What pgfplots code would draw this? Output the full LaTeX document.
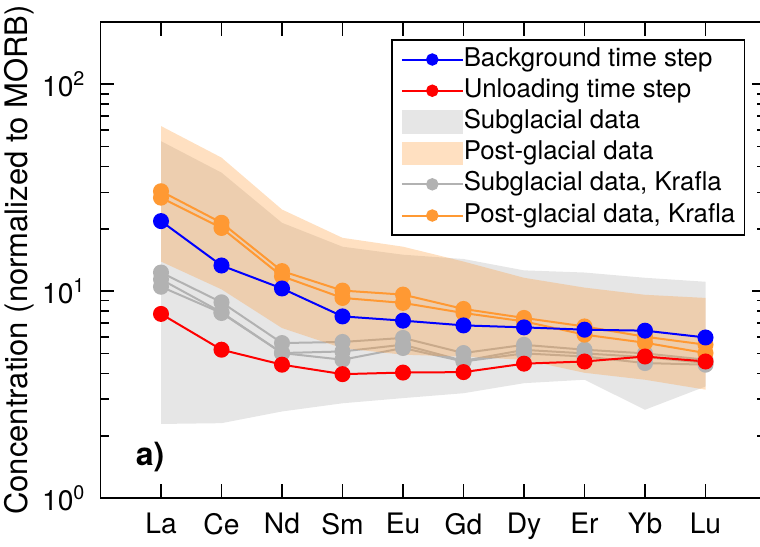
\documentclass[border=0pt]{standalone}
\usepackage{fontspec}
\setmainfont{TeX Gyre Heros}
\usepackage{pgfplots}
\pgfplotsset{compat=1.18}

\definecolor{bgblue}{RGB}{0,0,255}
\definecolor{unred}{RGB}{255,0,0}
\definecolor{kora}{RGB}{255,153,51}
\definecolor{kgray}{RGB}{178,178,178}
\definecolor{subfill}{RGB}{230,230,230}

\pgfplotsset{
  ree/.style={line width=1pt, mark=*, mark size=3.5pt, mark options={solid}, forget plot},
  lineimg/.style={legend image code/.code={
      \draw[mark repeat=2, mark phase=2, line width=1pt, mark size=2.6pt, ##1]
        plot coordinates {(0pt,0pt) (15.25pt,0pt) (30.5pt,0pt)};}},
  patchimg/.style={legend image code/.code={
      \fill[##1, draw=none] (0pt,-5.8pt) rectangle (30.5pt,5.8pt);}},
}

\begin{document}
\begin{tikzpicture}
\begin{axis}[
  scale only axis,
  width=332.75pt, height=238pt,
  xmin=0, xmax=11, ymin=1, ymax=200,
  ymode=log,
  xtick={1,...,10},
  xticklabels={La,Ce,Nd,Sm,Eu,Gd,Dy,Er,Yb,Lu},
  ytick={1,10,100},
  yticklabels={10\textsuperscript{0},10\textsuperscript{1},10\textsuperscript{2}},
  minor ytick={2,3,4,5,6,7,8,9,20,30,40,50,60,70,80,90},
  tick label style={font=\fontsize{14.1}{17}\selectfont},
  xticklabel style={yshift=-4pt},
  yticklabel style={xshift=-4pt},
  major tick length=7pt, minor tick length=4.5pt,
  tick style={black, line width=0.9pt},
  axis line style={line width=0.9pt},
  ylabel={Concentration (normalized to MORB)},
  ylabel style={font=\fontsize{15.5}{18}\selectfont, at={(rel axis cs:-0.1225,0.5)}, anchor=center},
  legend cell align=left,
  legend style={at={(rel axis cs:0.4365,0.964)}, anchor=north west,
    draw=black, line width=0.8pt, fill=white,
    font=\fontsize{12.9}{15}\selectfont,
    inner xsep=4.5pt, inner ysep=2.5pt, row sep=1pt,
    nodes={inner ysep=1pt, inner xsep=0pt, text height=9.6pt, text depth=3pt},
    /tikz/every even column/.append style={column sep=4pt}},
]
% legend entries, in the order of the key
\addlegendimage{lineimg, bgblue, mark=*}
\addlegendentry{Background time step}
\addlegendimage{lineimg, unred, mark=*}
\addlegendentry{Unloading time step}
\addlegendimage{patchimg, subfill}
\addlegendentry{Subglacial data}
\addlegendimage{patchimg, kora, fill opacity=0.3}
\addlegendentry{Post-glacial data}
\addlegendimage{lineimg, kgray, mark=*}
\addlegendentry{Subglacial data, Krafla}
\addlegendimage{lineimg, kora, mark=*}
\addlegendentry{Post-glacial data, Krafla\hspace{3pt}}

% subglacial envelope (upper bound La->Lu, lower bound Lu->La)
\addplot[draw=none, fill=subfill, forget plot] coordinates {
  (1,53.1) (2,37.4) (3,21.4) (4,16.4) (5,15.0) (6,14.3) (7,12.6) (8,12.3) (9,11.6) (10,11.1)
  (10,3.46) (9,2.67) (8,3.73) (7,3.59) (6,3.21) (5,3.04) (4,2.87) (3,2.62) (2,2.30) (1,2.28)};

% Krafla subglacial samples
\addplot[ree, kgray] coordinates {
  (1,12.3) (2,8.83) (3,5.61) (4,5.68) (5,5.94) (6,5.02) (7,5.50) (8,5.21) (9,5.00) (10,4.66)};
\addplot[ree, kgray] coordinates {
  (1,11.4) (2,7.90) (3,5.02) (4,5.11) (5,5.51) (6,4.60) (7,5.20) (8,5.00) (9,4.80) (10,4.50)};
\addplot[ree, kgray] coordinates {
  (1,10.5) (2,7.84) (3,5.02) (4,4.66) (5,5.31) (6,4.57) (7,5.00) (8,4.83) (9,4.49) (10,4.41)};

% post-glacial envelope
\addplot[draw=none, fill=kora, fill opacity=0.3, forget plot] coordinates {
  (1,62.8) (2,44.2) (3,24.8) (4,18.1) (5,16.4) (6,13.9) (7,11.6) (8,10.4) (9,9.6) (10,9.27)
  (10,3.34) (9,3.73) (8,4.03) (7,4.66) (6,4.82) (5,4.93) (4,5.30) (3,6.63) (2,10.2) (1,13.9)};

% Krafla post-glacial samples
\addplot[ree, kora] coordinates {
  (1,30.4) (2,21.4) (3,12.5) (4,10.06) (5,9.62) (6,8.20) (7,7.42) (8,6.75) (9,6.02) (10,5.51)};
\addplot[ree, kora] coordinates {
  (1,28.3) (2,20.2) (3,11.8) (4,9.27) (5,8.77) (6,7.84) (7,7.14) (8,6.16) (9,5.63) (10,5.02)};

% model time steps
\addplot[ree, bgblue] coordinates {
  (1,21.8) (2,13.3) (3,10.3) (4,7.55) (5,7.20) (6,6.83) (7,6.68) (8,6.51) (9,6.44) (10,5.97)};
\addplot[ree, unred] coordinates {
  (1,7.76) (2,5.21) (3,4.41) (4,3.97) (5,4.04) (6,4.06) (7,4.46) (8,4.57) (9,4.83) (10,4.57)};

\node[font=\bfseries\fontsize{16}{19}\selectfont] at (rel axis cs:0.0744,0.0861) {a)};
\end{axis}
\pgfresetboundingbox
\useasboundingbox (-50.25pt,-24pt) rectangle (329.75pt,249pt);
\end{tikzpicture}
\end{document}
